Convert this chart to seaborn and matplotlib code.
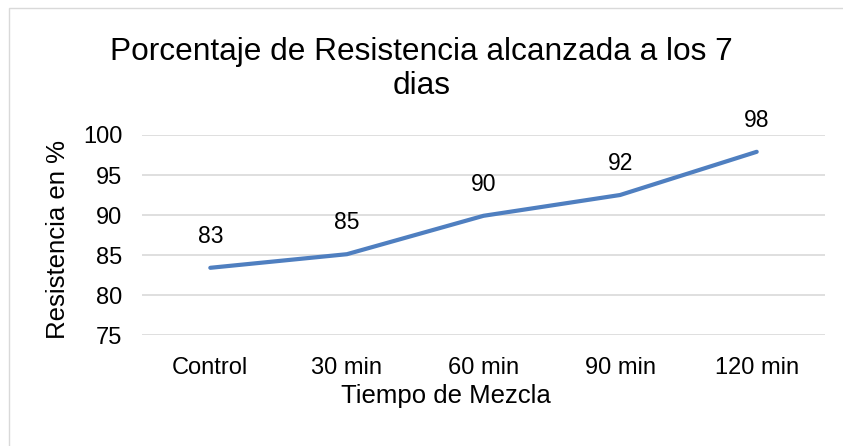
import matplotlib
matplotlib.use("Agg")
import matplotlib.pyplot as plt
import seaborn as sns
import pandas as pd
from matplotlib.patches import Rectangle

# Mixing time categories and strength reached at 7 days (%)
tiempos = ["Control", "30 min", "60 min", "90 min", "120 min"]
resistencia = [83.4, 85.1, 89.9, 92.5, 97.9]
yticks = [75, 80, 85, 90, 95, 100]

df = pd.DataFrame({"Tiempo": tiempos, "Resistencia": resistencia})

sns.set_theme(style="white")
plt.rcParams["font.family"] = ["Liberation Sans", "DejaVu Sans"]

fig = plt.figure(figsize=(8.43, 4.46), dpi=100)
ax = fig.add_axes([142 / 843, 1 - 335 / 446, (825 - 142) / 843, (335 - 135) / 446])

sns.lineplot(data=df, x="Tiempo", y="Resistencia", ax=ax, color="#4F7FC0",
             linewidth=3.0, sort=False, solid_capstyle="round")

for i, v in enumerate(resistencia):
    ax.annotate(f"{v:.0f}", (i, v), xytext=(0, 22.5), textcoords="offset points",
                ha="center", va="center", fontsize=16.5, color="#000000")

ax.set_xlim(-0.5, len(tiempos) - 0.5)
ax.set_ylim(75, 100)
ax.set_yticks(yticks)
ax.yaxis.grid(True, color="#D9D9D9", linewidth=1.2)
ax.xaxis.grid(False)
for s in ax.spines.values():
    s.set_visible(False)
ax.tick_params(axis="both", length=0, labelsize=17, colors="#000000")
ax.tick_params(axis="y", pad=14)
ax.tick_params(axis="x", pad=16)
ax.set_xlabel("Tiempo de Mezcla", fontsize=18.5, color="#000000")
ax.set_ylabel("Resistencia en %", fontsize=18.5, color="#000000")
ax.xaxis.set_label_coords(0.445, -0.245)
ax.yaxis.set_label_coords(-0.105, 0.475)

fig.text(0.5, 1 - 69 / 446, "Porcentaje de Resistencia alcanzada a los 7\ndias",
         ha="center", va="center", fontsize=22.8, color="#000000", linespacing=1.2)

# Chart frame
fig.patches.append(Rectangle((9 / 843, -0.05), 1.0, 1 - 8 / 446 + 0.05,
                             transform=fig.transFigure, fill=False,
                             edgecolor="#D9D9D9", linewidth=1.0))

fig.savefig("out.png", dpi=100)
